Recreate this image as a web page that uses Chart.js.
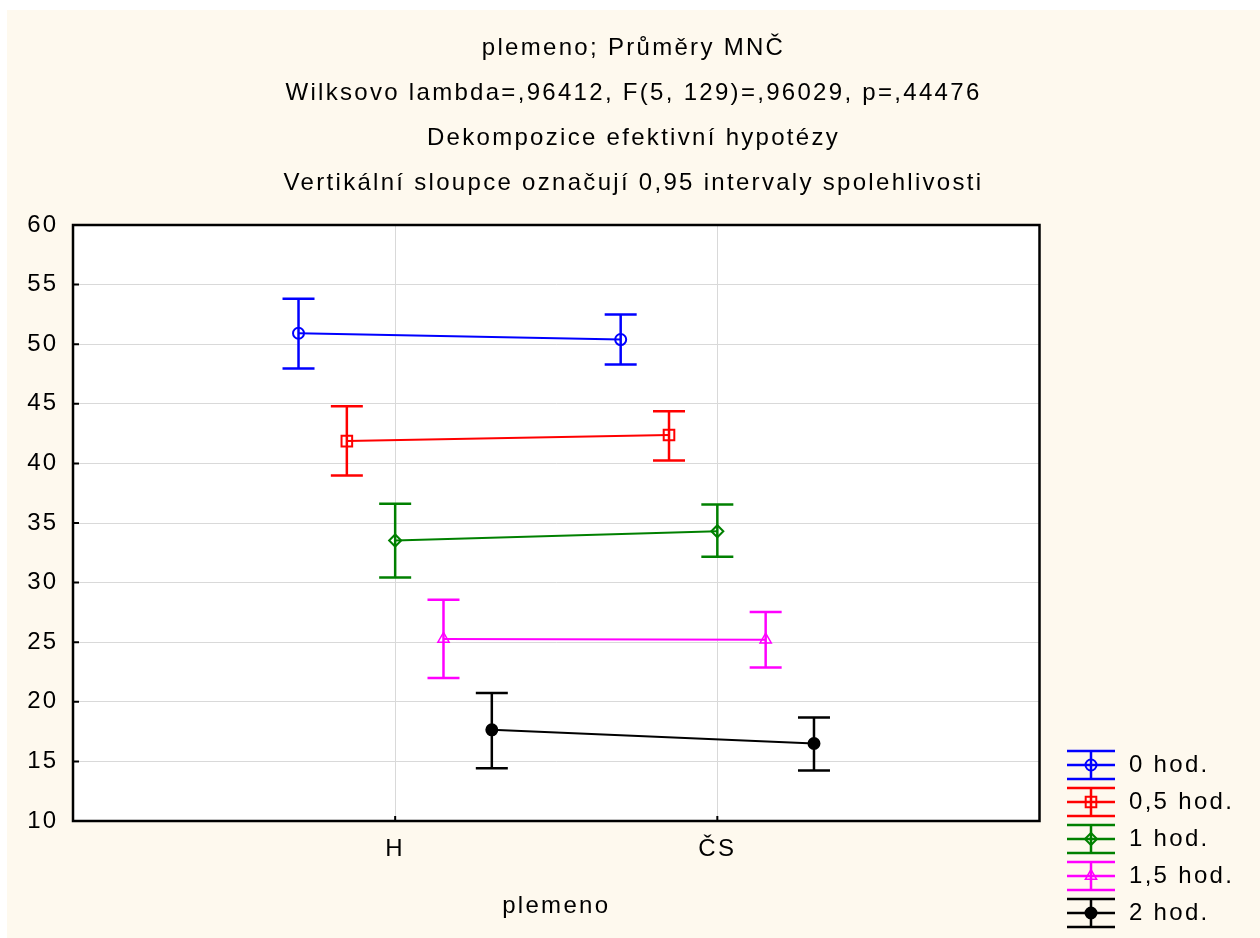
<!DOCTYPE html>
<html><head><meta charset="utf-8">
<script src="https://cdn.jsdelivr.net/npm/chart.js@4.4.0/dist/chart.umd.min.js"></script>
<style>
html,body{margin:0;padding:0;background:#fff;}
#wrap{position:absolute;left:7px;top:10px;width:1253px;height:928px;background:#FEF9EE;}
canvas{display:block;}
</style></head><body>
<div id="wrap"><canvas id="c" width="1253" height="928"></canvas></div>
<script>
// ---------- data ----------
const categories = ['H', 'ČS'];
const seriesNames = ['0 hod.', '0,5 hod.', '1 hod.', '1,5 hod.', '2 hod.'];
const mean0h  = [50.92, 50.39];
const low0h   = [47.96, 48.29];
const high0h  = [53.81, 52.50];
const mean05h = [41.87, 42.38];
const low05h  = [38.99, 40.25];
const high05h = [44.79, 44.37];
const mean1h  = [33.53, 34.31];
const low1h   = [30.42, 32.16];
const high1h  = [36.61, 36.55];
const mean15h = [25.27, 25.21];
const low15h  = [21.99, 22.88];
const high15h = [28.57, 27.54];
const mean2h  = [17.65, 16.50];
const low2h   = [14.43, 14.23];
const high2h  = [20.73, 18.68];
const yTicks = [10, 15, 20, 25, 30, 35, 40, 45, 50, 55, 60];
const titleLines = [
  'plemeno; Průměry MNČ',
  'Wilksovo lambda=,96412, F(5, 129)=,96029, p=,44476',
  'Dekompozice efektivní hypotézy',
  'Vertikální sloupce označují 0,95 intervaly spolehlivosti'
];
const xTitle = 'plemeno';

// ---------- styles ----------
const FONT = '"Liberation Sans", Arial, sans-serif';
const LS = '2.3px';
const colors = ['#0000FF', '#FF0000', '#008000', '#FF00FF', '#000000'];
const markers = [
  {style: 'circle', r: 5.5, bw: 2, fill: 'rgba(0,0,0,0)'},
  {style: 'rect', r: 7.5, bw: 2, fill: 'rgba(0,0,0,0)'},
  {style: 'rectRot', r: 6, bw: 2, fill: 'rgba(0,0,0,0)'},
  {style: 'triangle', r: 6.5, bw: 1.5, fill: 'rgba(0,0,0,0)'},
  {style: 'circle', r: 5.5, bw: 2, fill: '#000000'}
];
const dodge = 0.15;
const means = [mean0h, mean05h, mean1h, mean15h, mean2h];
const lows = [low0h, low05h, low1h, low15h, low2h];
const highs = [high0h, high05h, high1h, high15h, high2h];

const datasets = [];
seriesNames.forEach((name, i) => {
  const off = (i - 2) * dodge;
  datasets.push({
    label: name,
    data: categories.map((c, j) => ({x: j + 1 + off, y: means[i][j]})),
    borderColor: colors[i], borderWidth: 2, fill: false, tension: 0,
    pointStyle: markers[i].style, pointRadius: markers[i].r,
    pointBorderWidth: markers[i].bw, pointBorderColor: colors[i],
    pointBackgroundColor: markers[i].fill, order: 0
  });
  categories.forEach((c, j) => {
    datasets.push({
      label: name + ' CI ' + c,
      data: [{x: j + 1 + off, y: lows[i][j]}, {x: j + 1 + off, y: highs[i][j]}],
      borderColor: colors[i], borderWidth: 2.5, fill: false,
      pointStyle: 'line', pointRadius: 16, pointBorderWidth: 2.5,
      pointBorderColor: colors[i], order: 1
    });
  });
});

const lsPlugin = {
  id: 'ls',
  beforeLayout(chart) { chart.ctx.letterSpacing = LS; },
  beforeDraw(chart) {
    chart.ctx.letterSpacing = LS;
    const a = chart.chartArea, ctx = chart.ctx;
    ctx.save(); ctx.fillStyle = '#FFFFFF';
    ctx.fillRect(a.left, a.top, a.right - a.left, a.bottom - a.top);
    ctx.restore();
  }
};

const framePlugin = {
  id: 'frame',
  afterDatasetsDraw(chart) {
    const a = chart.chartArea, ctx = chart.ctx;
    const xs = chart.scales.x, ys = chart.scales.y;
    ctx.save();
    ctx.strokeStyle = '#000'; ctx.lineWidth = 2.5;
    ctx.strokeRect(a.left, a.top, a.right - a.left, a.bottom - a.top);
    ctx.lineWidth = 2;
    ctx.beginPath();
    yTicks.forEach(v => { const y = ys.getPixelForValue(v); ctx.moveTo(a.left, y); ctx.lineTo(a.left + 6, y); });
    categories.forEach((c, j) => { const x = xs.getPixelForValue(j + 1); ctx.moveTo(x, a.bottom); ctx.lineTo(x, a.bottom - 5); });
    ctx.stroke();
    ctx.restore();
  }
};

function drawMarker(ctx, m, color, x, y) {
  ctx.save();
  ctx.strokeStyle = color; ctx.lineWidth = m.bw; ctx.fillStyle = m.fill;
  ctx.beginPath();
  if (m.style === 'circle') { ctx.arc(x, y, m.r, 0, Math.PI * 2); }
  else if (m.style === 'rect') { const s = m.r * Math.SQRT1_2; ctx.rect(x - s, y - s, 2 * s, 2 * s); }
  else if (m.style === 'rectRot') { ctx.moveTo(x - m.r, y); ctx.lineTo(x, y - m.r); ctx.lineTo(x + m.r, y); ctx.lineTo(x, y + m.r); ctx.closePath(); }
  else if (m.style === 'triangle') {
    let rad = 0;
    ctx.moveTo(x + Math.sin(rad) * m.r, y - Math.cos(rad) * m.r);
    rad += 2 * Math.PI / 3; ctx.lineTo(x + Math.sin(rad) * m.r, y - Math.cos(rad) * m.r);
    rad += 2 * Math.PI / 3; ctx.lineTo(x + Math.sin(rad) * m.r, y - Math.cos(rad) * m.r);
    ctx.closePath();
  }
  ctx.fill(); ctx.stroke();
  ctx.restore();
}

const legendPlugin = {
  id: 'ciLegend',
  afterDraw(chart) {
    const ctx = chart.ctx, a = chart.chartArea;
    const left = a.right + 27.5, w = 48, half = 14, step = 37;
    const y0 = a.bottom - 56;
    ctx.save();
    ctx.letterSpacing = LS;
    ctx.font = '24px ' + FONT;
    ctx.textBaseline = 'middle'; ctx.textAlign = 'left';
    seriesNames.forEach((name, i) => {
      const cy = y0 + i * step, cx = left + w / 2;
      ctx.strokeStyle = colors[i]; ctx.lineWidth = 2.5;
      ctx.beginPath();
      ctx.moveTo(left, cy - half); ctx.lineTo(left + w, cy - half);
      ctx.moveTo(left, cy); ctx.lineTo(left + w, cy);
      ctx.moveTo(left, cy + half); ctx.lineTo(left + w, cy + half);
      ctx.moveTo(cx, cy - half); ctx.lineTo(cx, cy + half);
      ctx.stroke();
      drawMarker(ctx, markers[i], colors[i], cx, cy);
      ctx.fillStyle = '#000';
      ctx.fillText(name, left + 62, cy);
    });
    ctx.restore();
  }
};

new Chart(document.getElementById('c'), {
  type: 'line',
  data: {datasets},
  options: {
    responsive: false, animation: false, events: [],
    layout: {padding: {left: 0, right: 0, top: 0, bottom: 0}},
    plugins: {
      legend: {display: false}, tooltip: {enabled: false},
      title: {display: true, text: titleLines, color: '#000',
        font: {family: FONT, size: 24, weight: 'normal', lineHeight: '45px'},
        padding: {top: 15.5, bottom: 19.5}}
    },
    scales: {
      x: {
        type: 'linear', min: 0, max: 3,
        afterBuildTicks: s => { s.ticks = categories.map((c, j) => ({value: j + 1})); },
        afterFit: s => { s.height = 117; },
        ticks: {callback: v => categories[v - 1] || '', color: '#000', font: {family: FONT, size: 24},
          padding: 14, maxRotation: 0, autoSkip: false},
        grid: {color: '#D9D9D9', lineWidth: 1, drawTicks: false},
        border: {display: false},
        title: {display: true, text: xTitle, color: '#000', font: {family: FONT, size: 24},
          padding: {top: 0, bottom: 17}}
      },
      y: {
        type: 'linear', min: 10, max: 60,
        afterBuildTicks: s => { s.ticks = yTicks.map(v => ({value: v})); },
        afterFit: s => { s.width = 66; },
        ticks: {callback: v => String(v), color: '#000', font: {family: FONT, size: 24}, padding: 14.5},
        grid: {color: '#D9D9D9', lineWidth: 1, drawTicks: false},
        border: {display: false}
      },
      legendSpace: {
        type: 'linear', position: 'right', min: 0, max: 1, display: true,
        afterFit: s => { s.width = 220.5; },
        ticks: {display: false}, grid: {display: false, drawTicks: false}, border: {display: false}
      }
    }
  },
  plugins: [lsPlugin, framePlugin, legendPlugin]
});
</script>
</body></html>
